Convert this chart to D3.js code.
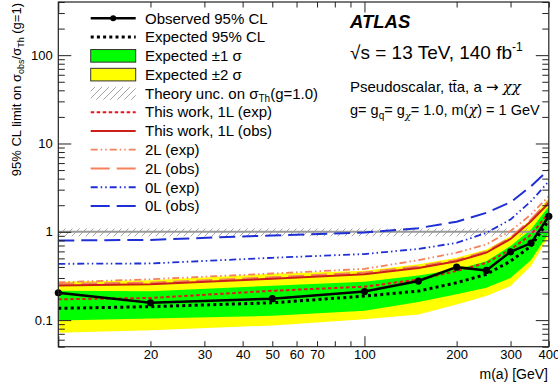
<!DOCTYPE html>
<html>
<head>
<meta charset="utf-8">
<style>
  body { margin: 0; background: white; }
  svg { display: block; font-family: 'Liberation Sans', Arial, sans-serif; }
  .tick text { font-family: 'Liberation Sans', Arial, sans-serif; fill: black; }
  .chi { font-family: 'DejaVu Serif', serif; font-style: italic; }
  .arrow { font-family: 'DejaVu Sans', sans-serif; }
</style>
<script src="https://d3js.org/d3.v7.min.js"></script>
</head>
<body>
<svg id="vis" width="558" height="383"></svg>
<script>
// ---- data ----
var mass     = [10, 20, 50, 100, 150, 200, 250, 300, 350, 400];
var observed = [0.204, 0.157, 0.175, 0.211, 0.277, 0.398, 0.365, 0.594, 0.745, 1.5];
var expected = [0.136, 0.142, 0.157, 0.187, 0.213, 0.265, 0.33, 0.465, 0.69, 1.35];
var sig1Up   = [0.215, 0.212, 0.245, 0.272, 0.32, 0.375, 0.465, 0.69, 1.06, 1.95];
var sig1Dn   = [0.099, 0.104, 0.112, 0.128, 0.16, 0.196, 0.233, 0.30, 0.48, 0.97];
var sig2Up   = [0.272, 0.282, 0.335, 0.362, 0.43, 0.51, 0.63, 0.89, 1.38, 2.42];
var sig2Dn   = [0.072, 0.077, 0.087, 0.102, 0.116, 0.15, 0.187, 0.243, 0.41, 0.89];
var oneLexp  = [0.172, 0.178, 0.215, 0.239, 0.288, 0.36, 0.445, 0.63, 0.93, 1.64];
var oneLobs  = [0.247, 0.254, 0.294, 0.33, 0.39, 0.465, 0.58, 0.83, 1.32, 2.12];
var twoLexp  = [0.268, 0.29, 0.337, 0.38, 0.477, 0.58, 0.72, 1.02, 1.57, 2.53];
var twoLobs  = [0.258, 0.265, 0.305, 0.345, 0.405, 0.48, 0.6, 0.86, 1.38, 2.25];
var zeroLexp = [0.434, 0.438, 0.508, 0.56, 0.64, 0.75, 0.97, 1.38, 2.22, 3.73];
var zeroLobs = [0.797, 0.81, 0.91, 0.98, 1.1, 1.3, 1.64, 2.16, 3.28, 5.06];
var theoryBand = [0.89, 1.09];

var xTickLabels = [20, 30, 40, 50, 60, 70, 100, 200, 300, 400];
var yTickLabels = [0.1, 1, 10, 100];

var svg = d3.select("#vis");
var x = d3.scaleLog().domain([10, 400]).range([58.3, 548.8]);
var y = d3.scaleLog().domain([0.05, 400]).range([346.7, 2]);

var fill2 = "#ffff00", fill1 = "#00ff00";
var cRed = "#e8141c", cRedObs = "#cc1f1a", cOrange = "#f5825a", cBlue = "#1f2fd6";

var defs = svg.append("defs");
defs.append("pattern").attr("id", "hatch").attr("patternUnits", "userSpaceOnUse")
    .attr("width", 7).attr("height", 7)
  .append("path").attr("d", "M-1,8 L8,-1").attr("stroke", "#9a9a9a").attr("stroke-width", 0.9);
defs.append("clipPath").attr("id", "frame")
  .append("rect").attr("x", x.range()[0]).attr("y", y.range()[1])
    .attr("width", x.range()[1] - x.range()[0]).attr("height", y.range()[0] - y.range()[1]);

var plot = svg.append("g").attr("clip-path", "url(#frame)");

function band(lo, hi) {
  return d3.area().x(function (d, i) { return x(mass[i]); })
    .y0(function (d, i) { return y(lo[i]); })
    .y1(function (d, i) { return y(hi[i]); })(mass);
}
function line(vals) {
  return d3.line().x(function (d, i) { return x(mass[i]); }).y(function (d) { return y(d); })(vals);
}

plot.append("path").attr("d", band(sig2Dn, sig2Up)).attr("fill", fill2);
plot.append("path").attr("d", band(sig1Dn, sig1Up)).attr("fill", fill1);

// theory uncertainty band
plot.append("rect").attr("x", x(10)).attr("width", x(400) - x(10))
  .attr("y", y(theoryBand[1])).attr("height", y(theoryBand[0]) - y(theoryBand[1]))
  .attr("fill", "url(#hatch)");
plot.append("line").attr("x1", x(10)).attr("x2", x(400)).attr("y1", y(1)).attr("y2", y(1))
  .attr("stroke", "#999").attr("stroke-width", 2);

var curves = [
  { v: zeroLobs, c: cBlue, w: 2, dash: "16,7" },
  { v: zeroLexp, c: cBlue, w: 1.8, dash: "7,3,1.5,3,1.5,3" },
  { v: twoLobs, c: cOrange, w: 2, dash: "16,7" },
  { v: twoLexp, c: cOrange, w: 1.8, dash: "7,3,1.5,3,1.5,3" },
  { v: oneLobs, c: cRedObs, w: 2, dash: null },
  { v: oneLexp, c: cRed, w: 2, dash: "3.5,2.5" },
  { v: expected, c: "black", w: 3, dash: "3,3.2" },
  { v: observed, c: "black", w: 2.5, dash: null }
];
curves.forEach(function (s) {
  plot.append("path").attr("d", line(s.v)).attr("fill", "none")
    .attr("stroke", s.c).attr("stroke-width", s.w)
    .attr("stroke-dasharray", s.dash);
});
svg.append("g").selectAll("circle").data(observed).enter().append("circle")
  .attr("cx", function (d, i) { return x(mass[i]); })
  .attr("cy", function (d) { return y(d); })
  .attr("r", 3.6).attr("fill", "black");

// ---- axes ----
var X0 = x.range()[0], X1 = x.range()[1], Yb = y.range()[0], Yt = y.range()[1];
var xMinor = x.ticks().filter(function (d) { return d != 10 && d != 100; });
var yAll = y.ticks();
var yMajor = yAll.filter(function (d) { return Math.abs(Math.log10(d) - Math.round(Math.log10(d))) < 1e-9; });
var yMinor = yAll.filter(function (d) { return yMajor.indexOf(d) < 0; });

function addAxis(gen, tx, ty) {
  var g = svg.append("g").attr("transform", "translate(" + tx + "," + ty + ")").call(gen);
  g.select(".domain").remove();
  g.selectAll("line").attr("stroke", "#222").attr("stroke-width", 1);
  return g;
}
addAxis(d3.axisBottom(x).tickValues(xMinor).tickSize(-5.5).tickFormat(""), 0, Yb);
addAxis(d3.axisBottom(x).tickValues([10, 100]).tickSize(-10.5).tickFormat(""), 0, Yb);
addAxis(d3.axisTop(x).tickValues(xMinor).tickSize(-5.5).tickFormat(""), 0, Yt);
addAxis(d3.axisTop(x).tickValues([10, 100]).tickSize(-10.5).tickFormat(""), 0, Yt);
addAxis(d3.axisLeft(y).tickValues(yMinor).tickSize(-6.5).tickFormat(""), X0, 0);
addAxis(d3.axisLeft(y).tickValues(yMajor).tickSize(-13).tickFormat(""), X0, 0);
addAxis(d3.axisRight(y).tickValues(yMinor).tickSize(-6.5).tickFormat(""), X1, 0);
addAxis(d3.axisRight(y).tickValues(yMajor).tickSize(-13).tickFormat(""), X1, 0);

var xl = addAxis(d3.axisBottom(x).tickValues(xTickLabels).tickSize(0).tickPadding(3.5)
  .tickFormat(d3.format("d")), 0, Yb);
xl.selectAll("text").attr("font-size", 13);
var yl = addAxis(d3.axisLeft(y).tickValues(yTickLabels).tickSize(0).tickPadding(5.5)
  .tickFormat(function (d) { return d < 1 ? d3.format(".1f")(d) : d3.format("d")(d); }), X0, 0);
yl.selectAll("text").attr("font-size", 13);

svg.append("rect").attr("x", X0).attr("y", Yt).attr("width", X1 - X0).attr("height", Yb - Yt)
  .attr("fill", "none").attr("stroke", "#222").attr("stroke-width", 1.2);

// axis titles
svg.append("text").attr("x", 548).attr("y", 379).attr("text-anchor", "end")
  .attr("font-size", 14).text("m(a) [GeV]");

var yt = svg.append("text").attr("transform", "translate(21,3) rotate(-90)")
  .attr("text-anchor", "end").attr("font-size", 13);
yt.append("tspan").text("95% CL limit on σ");
yt.append("tspan").attr("font-size", 9).attr("dy", 3).text("obs");
yt.append("tspan").attr("dy", -3).text("/σ");
yt.append("tspan").attr("font-size", 9).attr("dy", 3).text("Th");
yt.append("tspan").attr("dy", -3).text(" (g=1)");

// ---- legend ----
var leg = svg.append("g");
var lx0 = 90.7, lx1 = 135.7, ltx = 145, ly0 = 18.3, ldy = 18.77;
var entries = [
  { t: "Observed 95% CL", kind: "obs" },
  { t: "Expected 95% CL", kind: "line", c: "black", w: 3, dash: "3,3.2" },
  { t: "Expected ±1 σ", kind: "box", f: fill1 },
  { t: "Expected ±2 σ", kind: "box", f: fill2 },
  { t: "Theory unc. on σ", sub: "Th", after: "(g=1.0)", kind: "hatch" },
  { t: "This work, 1L (exp)", kind: "line", c: cRed, w: 2, dash: "3.5,2.5" },
  { t: "This work, 1L (obs)", kind: "line", c: cRedObs, w: 2, dash: null },
  { t: "2L (exp)", kind: "line", c: cOrange, w: 1.8, dash: "7,3,1.5,3,1.5,3" },
  { t: "2L (obs)", kind: "line", c: cOrange, w: 2, dash: "19,7" },
  { t: "0L (exp)", kind: "line", c: cBlue, w: 1.8, dash: "7,3,1.5,3,1.5,3" },
  { t: "0L (obs)", kind: "line", c: cBlue, w: 2, dash: "19,7" }
];
entries.forEach(function (e, i) {
  var yy = ly0 + i * ldy;
  if (e.kind == "obs") {
    leg.append("line").attr("x1", lx0).attr("x2", lx1).attr("y1", yy).attr("y2", yy)
      .attr("stroke", "black").attr("stroke-width", 2.5);
    leg.append("circle").attr("cx", (lx0 + lx1) / 2).attr("cy", yy).attr("r", 3).attr("fill", "black");
  } else if (e.kind == "line") {
    leg.append("line").attr("x1", lx0).attr("x2", lx1).attr("y1", yy).attr("y2", yy)
      .attr("stroke", e.c).attr("stroke-width", e.w).attr("stroke-dasharray", e.dash);
  } else if (e.kind == "box") {
    leg.append("rect").attr("x", lx0).attr("y", yy - 6.3).attr("width", lx1 - lx0).attr("height", 12.6)
      .attr("fill", e.f).attr("stroke", "#333").attr("stroke-width", 1);
  } else if (e.kind == "hatch") {
    leg.append("rect").attr("x", lx0).attr("y", yy - 6.3).attr("width", lx1 - lx0).attr("height", 12.6)
      .attr("fill", "url(#hatch)");
  }
  var t = leg.append("text").attr("x", ltx).attr("y", yy + 5.3).attr("font-size", 15);
  t.append("tspan").text(e.t);
  if (e.sub) {
    t.append("tspan").attr("font-size", 10).attr("dy", 3).text(e.sub);
    t.append("tspan").attr("dy", -3).text(e.after);
  }
});

// ---- labels ----
svg.append("text").attr("x", 350).attr("y", 28).attr("font-size", 18.5)
  .attr("font-weight", "bold").attr("font-style", "italic").text("ATLAS");
var en = svg.append("text").attr("x", 350).attr("y", 58.5).attr("font-size", 19);
en.append("tspan").text("√s = 13 TeV, 140 fb");
en.append("tspan").attr("font-size", 12).attr("dy", -8).text("-1");

var ps = svg.append("text").attr("x", 350).attr("y", 91.5).attr("font-size", 15);
ps.append("tspan").text("Pseudoscalar, tt\u0304a, a ");
ps.append("tspan").attr("class", "arrow").text("\u2192");
ps.append("tspan").text(" ");
ps.append("tspan").attr("class", "chi").text("\u03c7\u03c7");
var gl = svg.append("text").attr("x", 350).attr("y", 115).attr("font-size", 14.5);
gl.append("tspan").text("g= g");
gl.append("tspan").attr("font-size", 10).attr("dy", 3.5).text("q");
gl.append("tspan").attr("dy", -3.5).text("= g");
gl.append("tspan").attr("class", "chi").attr("font-size", 10).attr("dy", 3.5).text("\u03c7");
gl.append("tspan").attr("dy", -3.5).text("= 1.0, m(");
gl.append("tspan").attr("class", "chi").text("\u03c7");
gl.append("tspan").text(") = 1 GeV");
</script>
</body>
</html>
